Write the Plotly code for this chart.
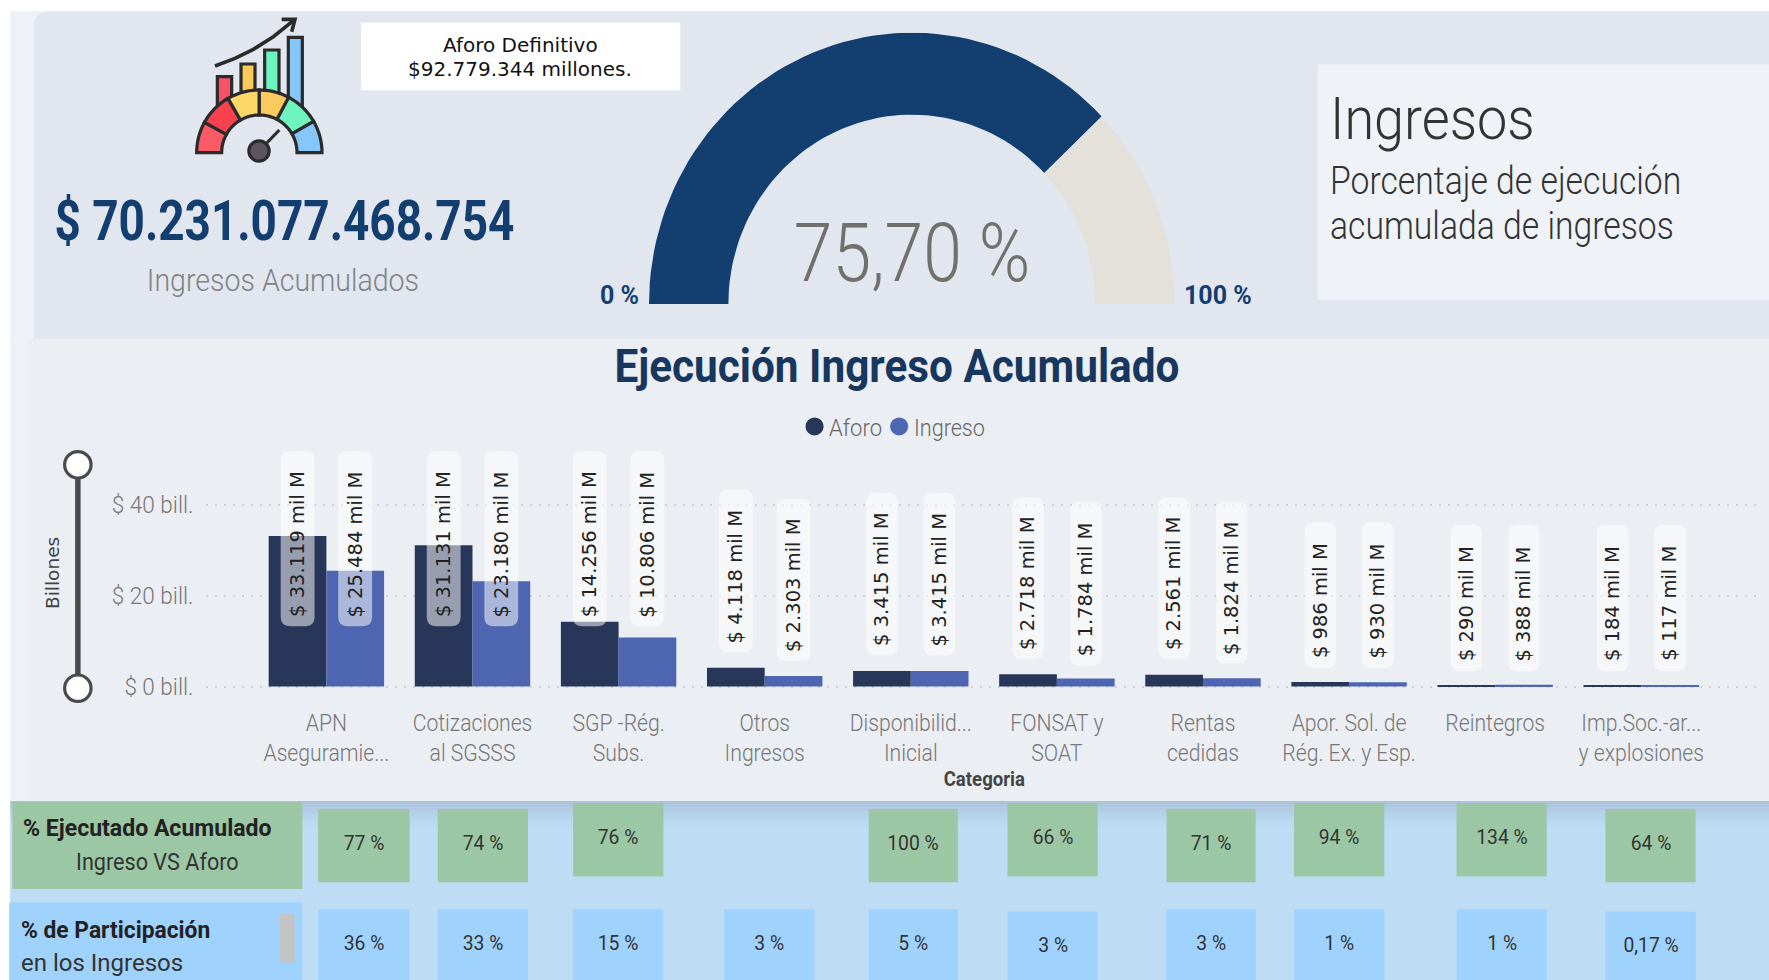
import json
import math
import plotly.graph_objects as go

categories = ["APN<br>Aseguramie...", "Cotizaciones<br>al SGSSS", "SGP -Rég.<br>Subs.", "Otros<br>Ingresos",
              "Disponibilid...<br>Inicial", "FONSAT y<br>SOAT", "Rentas<br>cedidas", "Apor. Sol. de<br>Rég. Ex. y Esp.",
              "Reintegros", "Imp.Soc.-ar...<br>y explosiones"]
aforo = [33.119, 31.131, 14.256, 4.118, 3.415, 2.718, 2.561, 0.986, 0.290, 0.184]
ingreso = [25.484, 23.180, 10.806, 2.303, 3.415, 1.784, 1.824, 0.930, 0.388, 0.117]
ejecutado = ["77 %", "74 %", "76 %", None, "100 %", "66 %", "71 %", "94 %", "134 %", "64 %"]
participacion = ["36 %", "33 %", "15 %", "3 %", "5 %", "3 %", "3 %", "1 %", "1 %", "0,17 %"]
gauge_values = [75.70, 24.30]
y_ticks = [0, 20, 40]
y_tick_text = ["$ 0 bill.", "$ 20 bill.", "$ 40 bill."]

W, H = 1769, 980
S = W / 1568
NARROW = "Roboto, sans-serif"
VERD = "DejaVu Sans, sans-serif"
NAVY = "#123e70"
BAR1, BAR2 = "#283659", "#4e66b2"

def X(x): return x * S / W
def Y(y): return 1 - y * S / H

shapes, notes, fit = [], [], {}

def rect(x0, y0, x1, y1, fill, layer="below", opacity=1):
    shapes.append(dict(type="rect", xref="paper", yref="paper", x0=X(x0), x1=X(x1), y0=Y(y0), y1=Y(y1),
                       fillcolor=fill, line_width=0, layer=layer, opacity=opacity))

def path(d, fill=None, line=None, lw=0, layer="below"):
    shapes.append(dict(type="path", xref="paper", yref="paper", path=d, fillcolor=fill or "rgba(0,0,0,0)",
                       line=dict(color=line or "rgba(0,0,0,0)", width=lw), layer=layer))

def pts(p, close=True):
    s = "M" + " L".join(f"{X(a):.5f},{Y(b):.5f}" for a, b in p)
    return s + (" Z" if close else "")

def rrect(x0, y0, x1, y1, r):
    return (f"M{X(x0+r):.5f},{Y(y0):.5f} L{X(x1-r):.5f},{Y(y0):.5f} Q{X(x1):.5f},{Y(y0):.5f} {X(x1):.5f},{Y(y0+r):.5f} "
            f"L{X(x1):.5f},{Y(y1-r):.5f} Q{X(x1):.5f},{Y(y1):.5f} {X(x1-r):.5f},{Y(y1):.5f} "
            f"L{X(x0+r):.5f},{Y(y1):.5f} Q{X(x0):.5f},{Y(y1):.5f} {X(x0):.5f},{Y(y1-r):.5f} "
            f"L{X(x0):.5f},{Y(y0+r):.5f} Q{X(x0):.5f},{Y(y0):.5f} {X(x0+r):.5f},{Y(y0):.5f} Z")

def circle(xc, yc, r, fill, line=None, lw=0):
    shapes.append(dict(type="circle", xref="paper", yref="paper", x0=X(xc - r), x1=X(xc + r), y0=Y(yc + r), y1=Y(yc - r),
                       fillcolor=fill, line=dict(color=line or "rgba(0,0,0,0)", width=lw), layer="below"))

def txt(x, y, t, size, color="#444", family=NARROW, anchor="center", angle=0, squeeze=None, weight=None):
    font = dict(size=size, color=color, family=family)
    if weight:
        font["weight"] = weight
    notes.append(dict(xref="paper", yref="paper", x=X(x), y=Y(y), text=t, showarrow=False, xanchor=anchor, yanchor="middle",
                      font=font, textangle=angle, align=anchor))
    if squeeze:
        fit[t.replace("<b>", "").replace("</b>", "")] = squeeze

# ---------- panels ----------
rect(9, 10, 1568, 300, "#eef1f8")
path(rrect(30, 10, 1600, 330, 14), fill="#e2e6ee")
rect(9, 300, 30, 712, "#eef1f8")
rect(25, 300, 1568, 710, "#ebeef3")
rect(9, 710, 1568, 869, "#bfdcf5")
for k in range(16):
    rect(9, 710 + k * 1.5, 1568, 711.5 + k * 1.5, "#8a9db5", opacity=0.42 * (1 - k / 16) ** 1.5)
rect(1168, 57, 1568, 266, "#eff2f7")
rect(320, 20, 603, 80, "#ffffff")

# ---------- info text ----------
txt(461, 40, "Aforo Definitivo", 20, "#111", VERD)
txt(461, 61, "$92.779.344 millones.", 20, "#111", VERD)
txt(252, 196, "<b>$ 70.231.077.468.754</b>", 56, NAVY, squeeze=0.82)
txt(251, 249, "Ingresos Acumulados", 31, "#7f8388", squeeze=0.92, weight=300)
txt(808, 224, "75,70 %", 82, "#72706c", squeeze=0.85, weight=300)
txt(549, 262, "<b>0\u00a0%</b>", 25, NAVY)
txt(1080, 262, "<b>100\u00a0%</b>", 25, NAVY)
txt(1177, 105, "Ingresos", 60, "#333", anchor="left", squeeze=1.03, weight=300)
txt(1177, 160, "Porcentaje de ejecución", 38, "#333", anchor="left", squeeze=0.887, weight=300)
txt(1177, 200, "acumulada de ingresos", 38, "#333", anchor="left", squeeze=0.887, weight=300)
txt(795, 324, "<b>Ejecución Ingreso Acumulado</b>", 47, "#17375e", squeeze=0.9)
txt(46, 508, "Billones", 18.5, "#444", VERD, angle=-90)

# ---------- legend ----------
circle(722, 378, 8, BAR1)
circle(797, 378, 8, BAR2)
txt(733, 379, "Aforo", 24, "#666", anchor="left", squeeze=0.92, weight=300)
txt(808, 379, "Ingreso", 24, "#666", anchor="left", squeeze=0.9, weight=300)

DARK = "#2b2b2b"
def zp(zx, zy): return ((180 + zx / 3) / S, (10 + zy / 3) / S)
cx, cy, ro, ri = 238, 428, 188, 113
for (a, b, top, bot, col) in [(112, 155, 200, 290, "#f9506a"), (183, 225, 162, 250, "#fbc95c"), (254, 297, 120, 250, "#6ef5bf"), (325, 367, 82, 290, "#85c6fb")]:
    path(pts([zp(a, bot), zp(a, top), zp(b, top), zp(b, bot)]), fill=col, line=DARK, lw=3.2)
segs = [(180, 151, "#fb5b66"), (151, 120, "#f9414f"), (120, 90, "#fdd767"), (90, 62, "#fbcb5e"), (62, 30, "#6ef5bf"), (30, 0, "#85c6fb")]
for a0, a1, col in segs:
    n = 10
    outer = [zp(cx + ro * math.cos(math.radians(a0 + (a1 - a0) * i / n)), cy - ro * math.sin(math.radians(a0 + (a1 - a0) * i / n))) for i in range(n + 1)]
    inner = [zp(cx + ri * math.cos(math.radians(a1 + (a0 - a1) * i / n)), cy - ri * math.sin(math.radians(a1 + (a0 - a1) * i / n))) for i in range(n + 1)]
    path(pts(outer + inner), fill=col, line=DARK, lw=3.2)
path(pts([zp(105, 168), zp(165, 145), zp(220, 118), zp(280, 80), zp(340, 32)], close=False), line=DARK, lw=3.6)
path(pts([zp(305, 28), zp(345, 28), zp(335, 65)], close=False), line=DARK, lw=3.6)
path(pts([zp(240, 420), zp(298, 360)], close=False), line=DARK, lw=3.2)
nx, ny = zp(237, 423)
circle(nx, ny, 9, "#5c5560", DARK, 3.2)

# ---------- slider ----------
path(pts([(69, 412), (69, 610)], close=False), line="#4a4a4a", lw=5.5)
for yy in (412, 610):
    circle(69, yy, 11.7, "#fff", "#4a4a4a", 3.2)

# ---------- data-label pills (layout) ----------
BAND = 129.5
X0 = 289.3
label_top = [400, 400, 400, 400, 400, 400, 434, 442, 437, 437, 441, 445, 441, 445, 463, 463, 465, 465, 465, 465]
label_bot = [555, 555, 555, 555, 555, 555, 578, 586, 581, 581, 584, 590, 584, 588, 592, 592, 595, 595, 595, 595]
def money(v):
    return "$ " + f"{v * 1000:,.0f}".replace(",", ".") + " mil M"
for i in range(len(categories)):
    for j, series in enumerate((aforo, ingreso)):
        xc = X0 + BAND * i + (-25.5 if j == 0 else 25.5)
        t, b = label_top[2 * i + j], label_bot[2 * i + j]
        hw = 15 if i < 4 else 14
        path(rrect(xc - hw, t, xc + hw, b, 8), fill="rgba(255,255,255,0.52)", layer="above")
        txt(xc, (t + b) / 2 + 5, money(series[i]), 19.5, "#222", VERD, angle=-90)

# ---------- table row ----------
rect(11, 711, 268, 788, "#9cc7a5")
rect(8, 800, 268, 869, "#9fd2fd")
rect(248, 810, 261, 853, "#c4c4c4")
txt(19, 734, "<b>% Ejecutado Acumulado</b>", 24, "#222", anchor="left", squeeze=0.96)
txt(140, 764, "Ingreso VS Aforo", 24, "#333", squeeze=0.9)
txt(17, 824, "<b>% de Participación</b>", 24, "#222", anchor="left", squeeze=0.95)
txt(17, 854, "en los Ingresos", 24, "#333", anchor="left", squeeze=1.0)
cell_x = [(282, 363), (388, 468), (508, 588), (642, 722), (770, 849), (893, 973), (1034, 1113), (1147, 1227), (1291, 1371), (1423, 1503)]
green_y = [717, 717, 712, 717, 717, 712, 717, 712, 712, 717]
blue_y = [806, 806, 806, 806, 806, 808, 806, 806, 806, 808]
for i, (x0, x1) in enumerate(cell_x):
    if ejecutado[i]:
        rect(x0, green_y[i], x1, green_y[i] + 65, "#9cc7a5")
        txt((x0 + x1) / 2, green_y[i] + 30, ejecutado[i], 21, "#333", squeeze=0.92)
    rect(x0, blue_y[i], x1, 869, "#9fd2fd")
    txt((x0 + x1) / 2, blue_y[i] + 30, participacion[i], 21, "#333", squeeze=0.92)

# ---------- figure ----------
fig = go.Figure()
fig.add_trace(go.Bar(x=categories, y=aforo, name="Aforo", marker=dict(color=BAR1, line_width=0), showlegend=False, hoverinfo="skip"))
fig.add_trace(go.Bar(x=categories, y=ingreso, name="Ingreso", marker=dict(color=BAR2, line_width=0), showlegend=False, hoverinfo="skip"))

# Gauge: the reference arc is slightly taller than wide, so it sits on its own unit axes.
HOLE = 0.698
def sector(start, end):
    n = 60
    ang = [math.pi * (1 - (start + (end - start) * i / n)) for i in range(n + 1)]
    xs = [math.cos(a) for a in ang] + [HOLE * math.cos(a) for a in reversed(ang)]
    ys = [math.sin(a) for a in ang] + [HOLE * math.sin(a) for a in reversed(ang)]
    return xs + xs[:1], ys + ys[:1]
total = sum(gauge_values)
done = gauge_values[0] / total
for (a, b, col) in ((0, done, NAVY), (done, 1, "#e4e0da")):
    gx, gy = sector(a, b)
    fig.add_trace(go.Scatter(x=gx, y=gy, xaxis="x2", yaxis="y2", mode="lines", fill="toself", fillcolor=col, line_width=0,
                             hoverinfo="skip", showlegend=False))

px_per = (608 - 447) * S / 40
y0_px = 608.5 * S
bot_px = 692
fig.update_layout(
    width=W, height=H, margin=dict(l=0, r=0, t=0, b=0, autoexpand=False), paper_bgcolor="#ffffff", plot_bgcolor="rgba(0,0,0,0)",
    barmode="group", bargap=0.21, bargroupgap=0, shapes=shapes, annotations=notes, showlegend=False,
    xaxis=dict(domain=[183 * S / W, 1562 * S / W], type="category", range=[(183 - X0) / BAND, (1562 - X0) / BAND], showgrid=False, zeroline=False,
               showline=False, ticks="", tickangle=0, tickfont=dict(size=23.5, color="#777", family=NARROW, weight=300), ticklabelstandoff=14,
               title=dict(text="<b>Categoria</b>", font=dict(size=20, color="#444", family=NARROW), standoff=0)),
    yaxis=dict(domain=[1 - bot_px / H, 1 - 440 / H], range=[(y0_px - bot_px) / px_per, (y0_px - 440) / px_per], tickvals=y_ticks, ticktext=y_tick_text,
               showgrid=True, griddash="2px,7px", gridcolor="#cfd3d8", gridwidth=2, zeroline=False, showline=False, ticks="",
               tickfont=dict(size=23, color="#777", family=NARROW, weight=300), ticklabelstandoff=12),
    xaxis2=dict(domain=[649 / W, 1174.6 / W], range=[-1, 1], visible=False, anchor="y2", fixedrange=True),
    yaxis2=dict(domain=[1 - 304 / H, 1 - 32.7 / H], range=[0, 1], visible=False, anchor="x2", fixedrange=True),
)
for c in categories:
    for line in c.split("<br>"):
        fit[line] = 0.9
for t in y_tick_text:
    fit[t] = 0.98
fit["Categoria"] = 0.93

# The reference uses a condensed face that is not installed: narrow the real text horizontally instead.
script = ("document.body.style.margin='0';document.documentElement.style.overflow='hidden';"
          "var m=" + json.dumps(fit, ensure_ascii=False) + ";"
          "document.querySelectorAll('svg text, svg text tspan.line').forEach(function(el){"
          "var r=m[el.textContent.trim()];"
          "if(r){el.setAttribute('textLength',el.getComputedTextLength()*r);el.setAttribute('lengthAdjust','spacingAndGlyphs');}});")
fig.write_html("out.html", config=dict(displayModeBar=False), post_script=script)
